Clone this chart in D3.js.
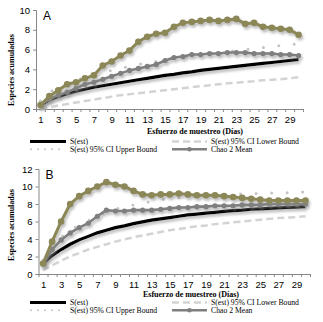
<!DOCTYPE html>
<html>
<head>
<meta charset="utf-8">
<script src="https://cdn.jsdelivr.net/npm/d3@7"></script>
<style>
  body { margin: 0; background: #fff; }
  svg { display: block; }
</style>
</head>
<body>
<div id="chart"></div>
<script>
// Data
const days = d3.range(1, 31);

// Panel A
const sEstA  = [0.4, 0.9, 1.25, 1.55, 1.8, 2.0, 2.2, 2.35, 2.5, 2.65, 2.8, 2.95, 3.1, 3.25, 3.4, 3.5, 3.65, 3.75, 3.9, 4.0, 4.1, 4.2, 4.3, 4.4, 4.5, 4.6, 4.7, 4.8, 4.9, 5.0];
const lowerA = [0.0, 0.15, 0.35, 0.5, 0.65, 0.8, 0.95, 1.1, 1.25, 1.4, 1.5, 1.6, 1.7, 1.8, 1.9, 2.0, 2.1, 2.2, 2.3, 2.4, 2.5, 2.6, 2.65, 2.75, 2.8, 2.9, 2.95, 3.0, 3.1, 3.2];
const upperA = [0.8, 1.7, 2.2, 2.6, 2.9, 3.2, 3.5, 3.7, 3.9, 4.1, 4.3, 4.5, 4.65, 4.8, 4.95, 5.1, 5.2, 5.35, 5.5, 5.6, 5.7, 5.8, 5.9, 6.0, 6.1, 6.2, 6.3, 6.4, 6.5, 6.6];
const chaoA  = [0.4, 1.0, 1.4, 1.7, 2.1, 2.5, 2.7, 3.0, 3.3, 3.6, 3.9, 4.1, 4.3, 4.5, 4.9, 5.2, 5.3, 5.5, 5.5, 5.6, 5.6, 5.7, 5.7, 5.7, 5.6, 5.6, 5.6, 5.5, 5.5, 5.4];
const oliveA = [0.4, 1.3, 1.9, 2.5, 2.7, 3.1, 3.4, 4.4, 4.8, 5.4, 5.9, 6.8, 7.3, 7.6, 7.7, 8.3, 8.7, 8.8, 8.9, 9.0, 8.9, 9.0, 9.1, 8.6, 8.7, 8.3, 8.2, 8.1, 8.0, 7.5];

// Panel B
const sEstB  = [1.2, 2.1, 2.8, 3.4, 3.9, 4.3, 4.7, 5.0, 5.3, 5.5, 5.75, 5.95, 6.15, 6.3, 6.45, 6.6, 6.75, 6.85, 6.95, 7.05, 7.15, 7.25, 7.3, 7.4, 7.45, 7.5, 7.55, 7.6, 7.65, 7.7];
const lowerB = [0.4, 1.0, 1.5, 2.0, 2.4, 2.8, 3.1, 3.4, 3.7, 3.95, 4.2, 4.4, 4.6, 4.8, 5.0, 5.15, 5.3, 5.45, 5.55, 5.7, 5.8, 5.9, 6.0, 6.1, 6.2, 6.3, 6.4, 6.45, 6.5, 6.6];
const upperB = [1.6, 3.0, 4.2, 5.0, 5.6, 6.1, 6.6, 7.0, 7.4, 7.7, 7.9, 8.1, 8.3, 8.5, 8.6, 8.7, 8.8, 8.9, 8.95, 9.0, 9.05, 9.1, 9.15, 9.2, 9.2, 9.25, 9.3, 9.3, 9.35, 9.4];
const chaoB  = [1.2, 2.8, 3.9, 4.7, 5.3, 5.8, 6.6, 7.3, 7.2, 7.2, 7.3, 7.3, 7.3, 7.4, 7.5, 7.6, 7.6, 7.7, 7.7, 7.8, 7.8, 7.8, 7.9, 7.9, 7.9, 8.0, 8.0, 8.0, 8.0, 8.0];
const oliveB = [1.2, 3.7, 6.0, 8.0, 8.9, 9.5, 10.0, 10.5, 10.2, 10.0, 9.5, 9.1, 9.0, 9.1, 9.1, 9.2, 9.1, 9.0, 9.0, 9.0, 8.9, 8.8, 8.7, 8.6, 8.5, 8.4, 8.4, 8.4, 8.4, 8.4];

const xTicks = d3.range(1, 31, 2);
const yTicksA = [0, 2, 4, 6, 8, 10];
const yTicksB = [0, 2, 4, 6, 8, 10, 12];

const legendNames = ["S(est)", "S(est) 95% CI Lower Bound", "S(est) 95% CI Upper Bound", "Chao 2 Mean"];
const yTitle = "Especies acumuladas";
const xTitle = "Esfuerzo de muestreo (Días)";

const colors = { sEst: "#000", lower: "#d3d3d3", upper: "#c4c4c4", chao: "#7f7f7f", olive: "#8c8757" };

const svg = d3.select("#chart").append("svg")
  .attr("width", 323)
  .attr("height", 322);

// soft drop shadow like the original
const defs = svg.append("defs");
const f = defs.append("filter").attr("id", "shadow")
  .attr("x", "-10%").attr("y", "-10%").attr("width", "130%").attr("height", "140%");
f.append("feDropShadow")
  .attr("dx", 1.5).attr("dy", 2.5).attr("stdDeviation", 1.2)
  .attr("flood-color", "#888").attr("flood-opacity", 0.55);

function drawPanel(p) {
  const g = svg.append("g");
  const x = d3.scaleLinear().domain([0.5, 30.5]).range([p.x0, p.x1]);
  const y = d3.scaleLinear().domain([0, p.yMax]).range([p.yBottom, p.yTop]);

  // y axis
  g.append("g")
    .attr("transform", `translate(${p.x0},0)`)
    .call(d3.axisLeft(y).tickValues(p.yTicks).tickSize(3).tickPadding(3))
    .call(a => a.select(".domain").attr("stroke", "#888"))
    .call(a => a.selectAll(".tick line").attr("stroke", "#888"))
    .call(a => a.selectAll("text").attr("font-family", "Liberation Sans, Arial, sans-serif")
      .attr("font-size", 9.5).attr("fill", "#000"));

  // x axis: tick marks at category boundaries, labels on odd days
  g.append("g")
    .attr("transform", `translate(0,${p.yBottom})`)
    .call(d3.axisBottom(x).tickValues(d3.range(0.5, 31, 1)).tickSize(3).tickSizeOuter(0).tickFormat(""))
    .call(a => a.select(".domain").attr("stroke", "#888"))
    .call(a => a.selectAll(".tick line").attr("stroke", "#888"));
  g.append("g")
    .attr("transform", `translate(0,${p.yBottom})`)
    .call(d3.axisBottom(x).tickValues(xTicks).tickSize(0).tickPadding(7))
    .call(a => a.select(".domain").remove())
    .call(a => a.selectAll("text").attr("font-family", "Liberation Sans, Arial, sans-serif")
      .attr("font-size", 9.5).attr("fill", "#000"));

  const line = d3.line().x((d, i) => x(days[i])).y(d => y(d));

  // lower bound (dashed)
  g.append("path").datum(p.lower)
    .attr("d", line).attr("fill", "none")
    .attr("stroke", colors.lower).attr("stroke-width", 2.5)
    .attr("stroke-dasharray", "7 4");

  // upper bound (dots)
  g.append("path").datum(p.upper)
    .attr("d", line).attr("fill", "none")
    .attr("stroke", colors.upper).attr("stroke-width", 3)
    .attr("stroke-linecap", "round")
    .attr("stroke-dasharray", "0 15.5");

  // S(est)
  g.append("path").datum(p.sEst)
    .attr("d", line).attr("fill", "none")
    .attr("stroke", colors.sEst).attr("stroke-width", 3.2)
    .attr("filter", "url(#shadow)");

  // Chao 2 mean
  const gc = g.append("g").attr("filter", "url(#shadow)");
  gc.append("path").datum(p.chao)
    .attr("d", line).attr("fill", "none")
    .attr("stroke", colors.chao).attr("stroke-width", 2.6);
  gc.selectAll("circle").data(p.chao).join("circle")
    .attr("cx", (d, i) => x(days[i])).attr("cy", d => y(d))
    .attr("r", 2.6).attr("fill", colors.chao);

  // olive series
  const go = g.append("g").attr("filter", "url(#shadow)");
  go.append("path").datum(p.olive)
    .attr("d", line).attr("fill", "none")
    .attr("stroke", colors.olive).attr("stroke-width", 3);
  go.selectAll("circle").data(p.olive).join("circle")
    .attr("cx", (d, i) => x(days[i])).attr("cy", d => y(d))
    .attr("r", 3.3).attr("fill", colors.olive);

  // panel letter
  g.append("text").attr("x", p.x0 + 7).attr("y", p.yTop + 10)
    .attr("font-family", "Liberation Sans, Arial, sans-serif").attr("font-size", 12)
    .text(p.letter);

  // axis titles
  g.append("text")
    .attr("transform", `translate(14,${p.yTitleMid}) rotate(-90)`)
    .attr("text-anchor", "middle")
    .attr("font-family", "Liberation Serif, Times New Roman, serif")
    .attr("font-weight", "bold").attr("font-size", 8)
    .text(yTitle);
  g.append("text")
    .attr("x", p.xTitleMid).attr("y", p.xTitleY)
    .attr("text-anchor", "middle")
    .attr("font-family", "Liberation Serif, Times New Roman, serif")
    .attr("font-weight", "bold").attr("font-size", 8)
    .text(xTitle);

  // legend
  const lg = g.append("g")
    .attr("font-family", "Liberation Serif, Times New Roman, serif")
    .attr("font-size", 7.7);
  const r1 = p.legY - 0.5, r2 = p.legY + 7.2;
  lg.append("line").attr("x1", 30).attr("x2", 66).attr("y1", r1).attr("y2", r1)
    .attr("stroke", colors.sEst).attr("stroke-width", 3);
  lg.append("line").attr("x1", 172).attr("x2", 207).attr("y1", r1).attr("y2", r1)
    .attr("stroke", colors.lower).attr("stroke-width", 2.5).attr("stroke-dasharray", "7 4");
  lg.append("line").attr("x1", 31).attr("x2", 63).attr("y1", r2).attr("y2", r2)
    .attr("stroke", colors.upper).attr("stroke-width", 2).attr("stroke-linecap", "round")
    .attr("stroke-dasharray", "0 7");
  lg.append("line").attr("x1", 172).attr("x2", 207).attr("y1", r2).attr("y2", r2)
    .attr("stroke", colors.chao).attr("stroke-width", 2.5);
  lg.append("circle").attr("cx", 189.5).attr("cy", r2).attr("r", 2.3).attr("fill", colors.chao);
  const lx = [70, 211, 70, 211], ly = [r1, r1, r2, r2];
  legendNames.forEach((n, i) => {
    lg.append("text").attr("x", lx[i]).attr("y", ly[i]).attr("dy", "0.33em").text(n);
  });
}

drawPanel({
  letter: "A", x0: 36, x1: 303, yTop: 10, yBottom: 109, yMax: 10, yTicks: yTicksA,
  sEst: sEstA, lower: lowerA, upper: upperA, chao: chaoA, olive: oliveA,
  yTitleMid: 70, xTitleMid: 195, xTitleY: 134, legY: 142
});
drawPanel({
  letter: "B", x0: 38.5, x1: 310, yTop: 169, yBottom: 274, yMax: 12, yTicks: yTicksB,
  sEst: sEstB, lower: lowerB, upper: upperB, chao: chaoB, olive: oliveB,
  yTitleMid: 225, xTitleMid: 191, xTitleY: 297, legY: 303
});
</script>
</body>
</html>
